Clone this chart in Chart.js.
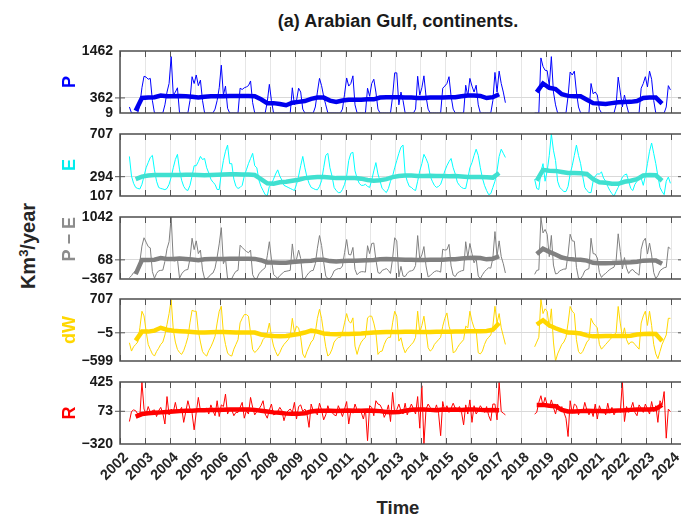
<!DOCTYPE html>
<html lang="en">
<head>
<meta charset="utf-8" />
<title>Arabian Gulf, continents</title>
<style>
  * { margin: 0; padding: 0; }
  html, body { width: 681px; height: 516px; overflow: hidden; background: #fff; }
  body { position: relative; font-family: "Liberation Sans", Arial, sans-serif; color: #000; }
  canvas { position: absolute; left: 0; top: 0; }
  .title { position: absolute; left: 120px; width: 556px; top: 11px; text-align: center; font-weight: bold; font-size: 18px; color: #1a1a1a; }
  .xlabel { position: absolute; left: 120px; width: 556px; top: 497px; text-align: center; font-weight: bold; font-size: 18.5px; color: #262626; }
  .ylabel { position: absolute; left: 28px; top: 246px; transform: translate(-50%, -50%) rotate(-90deg); font-weight: bold; font-size: 20px; white-space: nowrap; color: #262626; }
  .ylabel sup { font-size: 13px; }
</style>
</head>
<body>
<div class="title">(a) Arabian Gulf, continents.</div>
<div class="ylabel">Km<sup>3</sup>/year</div>
<div class="xlabel">Time</div>
<canvas id="c0" width="700" height="516"></canvas>
<canvas id="c1" width="700" height="516"></canvas>
<canvas id="c2" width="700" height="516"></canvas>
<canvas id="c3" width="700" height="516"></canvas>
<canvas id="c4" width="700" height="516"></canvas>
<script src="https://cdn.jsdelivr.net/npm/chart.js/dist/chart.umd.min.js"></script>
<script>
// monthly series start May 2002; gap Jun 2017 - Jun 2018 between GRACE and GRACE-FO
const years = [2002, 2003, 2004, 2005, 2006, 2007, 2008, 2009, 2010, 2011, 2012, 2013,
  2014, 2015, 2016, 2017, 2018, 2019, 2020, 2021, 2022, 2023, 2024];

const pTicks = [9, 362, 1462];
const eTicks = [107, 294, 707];
const peTicks = [-367, 68, 1042];
const dwTicks = [-599, -5, 707];
const rTicks = [-320, 73, 425];

const precip = [
  150, 9, 9, 9, 9, 200, 600, 870,
  850, 800, 820, 300, 9, 9, 9, 9, 9, 200, 500, 700,
  1330, 430, 500, 600, 9, 9, 9, 9, 9, 300, 860, 700,
  900, 650, 780, 300, 9, 9, 9, 9, 9, 100, 300, 600,
  1130, 430, 640, 120, 9, 9, 9, 9, 9, 590, 560, 600,
  620, 650, 760, 250, 9, 9, 9, 9, 9, 9, 270, 680,
  300, 9, 9, 9, 9, 9, 9, 9, 9, 9, 600, 200,
  300, 590, 500, 100, 9, 9, 9, 9, 9, 150, 500, 820,
  650, 400, 200, 9, 9, 9, 9, 9, 9, 9, 100, 450,
  830, 640, 700, 880, 200, 9, 9, 9, 9, 9, 590, 400,
  700, 800, 500, 100, 9, 9, 9, 9, 9, 9, 400, 950,
  950, 200, 500, 300, 9, 9, 9, 9, 9, 100, 870, 430,
  600, 880, 400, 100, 9, 9, 9, 9, 9, 9, 590, 640,
  700, 860, 400, 100, 9, 9, 9, 9, 9, 660, 400, 820,
  640, 500, 660, 200, 9, 9, 9, 9, 9, 9, 300, 960,
  500, 990, 700, 500, 250, null, null, null, null, null, null, null,
  null, null, null, null, null, null, 9, 9, 9, 1300, 1100, 1010,
  1000, 640, 1330, 500, 200, 9, 9, 9, 9, 9, 400, 970,
  900, 990, 500, 150, 9, 9, 9, 9, 9, 700, 460, 500,
  430, 100, 9, 9, 9, 9, 9, 9, 9, 200, 850, 500,
  150, 430, 200, 9, 9, 9, 9, 9, 9, 590, 700, 860,
  620, 990, 800, 300, 9, 9, 9, 9, 9, 150, 650, 550
];

const evap = [
  490, 300, 230, 190, 180, 175, 220, 300,
  380, 430, 480, 500, 360, 250, 190, 180, 175, 168, 180, 220,
  290, 380, 460, 510, 360, 260, 200, 170, 160, 210, 300, 400,
  400, 440, 490, 460, 470, 380, 330, 270, 240, 220, 170, 170,
  330, 450, 540, 600, 420, 420, 270, 200, 180, 190, 210, 300,
  360, 420, 470, 520, 400, 380, 260, 200, 160, 120, 110, 200,
  220, 270, 320, 360, 300, 260, 210, 200, 190, 180, 170, 160,
  220, 300, 400, 490, 380, 290, 230, 190, 180, 170, 167, 200,
  254, 380, 500, 520, 380, 300, 190, 160, 140, 140, 170, 220,
  300, 450, 520, 530, 350, 280, 230, 210, 210, 220, 200, 190,
  260, 350, 430, 320, 250, 180, 160, 140, 180, 250, 300, 380,
  450, 520, 580, 600, 320, 250, 200, 190, 170, 160, 250, 350,
  420, 510, 470, 420, 300, 250, 210, 190, 200, 220, 280, 350,
  400, 440, 470, 380, 320, 240, 210, 190, 180, 180, 275, 380,
  430, 500, 560, 500, 380, 280, 210, 160, 120, 130, 190, 250,
  350, 490, 560, 520, 480, null, null, null, null, null, null, null,
  null, null, null, null, null, null, 270, 180, 170, 340, 420, 250,
  350, 500, 707, 550, 450, 250, 190, 170, 150, 150, 200, 320,
  400, 500, 600, 500, 420, 300, 190, 160, 140, 140, 250, 300,
  320, 320, 340, 280, 250, 200, 160, 130, 107, 150, 190, 240,
  290, 310, 320, 250, 180, 160, 220, 250, 290, 280, 210, 300,
  420, 540, 620, 520, 420, 300, 190, 150, 120, 250, 290, 230
];

const pMinusE = [
  -340, -291, -221, -181, -171, 25, 380, 570,
  470, 370, 340, -200, -351, -241, -181, -171, -166, 32, 320, 480,
  1040, 50, 40, 90, -351, -251, -191, -161, -151, 90, 560, 300,
  500, 210, 290, -160, -360, -360, -320, -261, -231, -120, 130, 430,
  800, -20, 100, -360, -360, -360, -261, -191, -171, 400, 350, 300,
  260, 230, 290, -270, -360, -360, -251, -191, -151, -111, 160, 480,
  80, -261, -311, -351, -291, -251, -201, -191, -181, -171, 430, 40,
  80, 290, 100, -360, -360, -281, -221, -181, -171, -20, 333, 620,
  396, 20, -300, -360, -360, -291, -181, -151, -131, -131, -70, 230,
  530, 190, 180, 350, -150, -271, -221, -201, -201, -211, 390, 210,
  440, 450, 70, -220, -241, -171, -151, -131, -171, -241, 100, 570,
  500, -320, -80, -300, -311, -241, -191, -181, -161, -60, 620, 80,
  180, 370, -70, -320, -291, -241, -201, -181, -191, -211, 310, 290,
  300, 420, -70, -280, -311, -231, -201, -181, -171, 480, 125, 440,
  210, 0, 100, -300, -360, -271, -201, -151, -111, -121, 110, 710,
  150, 500, 140, -20, -230, null, null, null, null, null, null, null,
  null, null, null, null, null, null, -261, -171, -161, 1040, 680, 760,
  650, 140, 623, -50, -250, -241, -181, -161, -141, -141, 200, 650,
  500, 490, -100, -350, -360, -291, -181, -151, -131, 560, 210, 200,
  110, -220, -331, -271, -241, -191, -151, -121, -98, 50, 660, 260,
  -140, 120, -120, -241, -171, -151, -211, -241, -281, 310, 490, 560,
  200, 450, 180, -220, -360, -291, -181, -141, -111, -100, 360, 320
];

const storageChange = [
  -215, -390, -300, -250, -200, 100, 449, 350,
  30, -250, -355, -450, -495, -400, -330, -250, -200, -50, 170, 400,
  693, 65, -200, -355, -420, -460, -380, -250, -100, 205, 470, 449,
  449, 30, -200, -400, -460, -495, -380, -300, -200, -80, 200, 450,
  553, -10, -250, -430, -480, -495, -350, -250, -150, 205, 300, 379,
  379, 345, -10, -355, -420, -380, -320, -250, -145, -100, 0, 200,
  -75, -285, -400, -495, -420, -320, -250, -200, -150, -75, 300, 0,
  134, 100, -100, -450, -530, -400, -300, -200, -150, 0, 300, 490,
  300, -10, -300, -495, -450, -350, -200, -145, -100, -100, 0, 205,
  400, 240, 200, 310, -285, -460, -300, -200, -145, -100, 310, 345,
  345, 200, 0, -460, -400, -390, -250, -150, -100, -100, 205, 449,
  345, -180, -110, -300, -425, -350, -300, -250, -200, -100, 450, 0,
  150, 345, 30, -320, -390, -350, -250, -200, -150, -100, 134, 300,
  414, 134, -10, -425, -400, -320, -250, -200, -150, 134, 100, 449,
  240, 100, 50, -425, -450, -390, -250, -150, -100, -50, 134, 553,
  205, 400, 100, -75, -250, null, null, null, null, null, null, null,
  null, null, null, null, null, null, -300, -200, -100, 707, 400, 500,
  450, 100, 500, -200, -599, -450, -350, -250, -200, -100, 200, 550,
  450, 400, -150, -400, -450, -400, -300, -200, -150, 300, 200, 150,
  100, -250, -350, -300, -250, -200, -150, -100, -50, 0, 550, 200,
  -100, 100, -150, -250, -200, -200, -250, -300, -350, 200, 350, 450,
  150, 450, 150, -250, -450, -550, -400, -250, -150, -50, 300, 300
];

const runoff = [
  -50, 70, 90, 80, 40, 10, 425, 100,
  40, 130, 60, 80, 90, 10, 80, 120, 50, -80, 250, 30,
  100, 60, 180, 60, 80, 120, -60, 70, 200, 100, 50, -150,
  60, 240, 80, 70, 100, 110, 40, 150, 80, 20, 200, 10,
  150, 130, 280, 40, 100, 90, 20, 60, 60, 120, 180, -10,
  80, 40, 240, 120, 30, 70, 100, 140, 200, 40, -10, 90,
  160, 30, 40, 70, 120, 80, -40, 50, 80, 100, 60, 180,
  -20, 130, 150, 70, 100, 40, -120, 160, 80, 60, 30, 170,
  90, -30, 30, 140, 60, 60, 30, 20, 140, 80, 10, 100,
  190, -80, 80, 50, 160, 90, 100, 60, -20, 100, -280, 140,
  120, 20, 200, 160, 150, 100, 0, 60, 150, -50, 300, 50,
  90, 160, 80, 40, 170, 30, 100, 160, 100, 40, 250, -130,
  380, -320, 100, 160, 120, 90, 70, 150, 50, -220, 190, 70,
  140, 60, 110, 170, 110, 80, 130, 60, -90, 150, 40, 210,
  -60, 140, 40, 80, 140, 100, 60, 130, 20, -40, 160, 160,
  -30, 425, 70, 50, 30, null, null, null, null, null, null, null,
  null, null, null, null, null, null, 40, 60, 180, 260, 140, 240,
  150, 120, 210, 120, 40, 160, 80, 130, 60, -10, -230, 200,
  50, 160, 140, 30, 100, 60, 180, 90, 30, 100, 10, 160,
  -20, 140, 70, 100, 30, 170, 50, 120, 30, 80, 90, 60,
  425, -50, 130, 60, 100, 180, 60, 20, 150, 110, 60, 160,
  100, 40, 190, 70, 140, -60, 200, 150, 310, -250, 100, 70
];

// 12-month running means, sampled every quarter from 2002.625
const precipSmooth = [
  60, 360,
  370, 380, 420, 400,
  400, 410, 400, 390,
  370, 390, 400, 400,
  400, 410, 410, 410,
  410, 400, 330, 240,
  240, 220, 190, 250,
  270, 290, 340, 370,
  370, 300, 270, 300,
  320, 320, 320, 330,
  330, 370, 380, 380,
  380, 370, 370, 360,
  360, 370, 370, 370,
  380, 380, 400, 420,
  420, 410, 360, 380,
  450, null, null, null,
  null, null, 500, 700,
  600, 570, 450, 410,
  400, 400, 320, 240,
  230, 220, 240, 260,
  265, 270, 290, 360,
  370, 370, 230
];

const evapSmooth = [
  270, 295,
  305, 310, 310, 310,
  310, 310, 312, 312,
  310, 308, 310, 312,
  315, 318, 318, 316,
  315, 310, 270, 230,
  225, 240, 245, 255,
  265, 280, 285, 290,
  290, 285, 280, 280,
  280, 282, 275, 262,
  255, 260, 270, 290,
  300, 305, 305, 300,
  300, 302, 300, 300,
  298, 300, 295, 290,
  290, 290, 288, 285,
  330, null, null, null,
  null, null, 255, 360,
  352, 350, 340, 330,
  330, 328, 320, 270,
  240, 235, 225, 225,
  245, 255, 270, 305,
  310, 308, 255
];

const pMinusESmooth = [
  -255, 65,
  65, 70, 110, 90,
  90, 100, 88, 78,
  60, 82, 90, 88,
  85, 92, 92, 94,
  95, 90, 60, 10,
  10, 0, 0, 20,
  30, 40, 50, 70,
  70, 40, 30, 40,
  50, 50, 55, 60,
  65, 80, 85, 80,
  75, 70, 70, 65,
  65, 68, 70, 72,
  80, 82, 100, 110,
  115, 110, 80, 95,
  150, null, null, null,
  null, null, 200, 320,
  250, 190, 120, 90,
  75, 72, 50, 0,
  -10, -10, -5, 5,
  10, 15, 25, 50,
  55, 55, -20
];

const storageSmooth = [
  -170, 20,
  20, 40, 100, 60,
  40, 30, 20, 10,
  0, 0, 5, 10,
  10, 5, 0, 0,
  0, 0, -40, -60,
  -70, -75, -70, -50,
  -30, 0, 40, 20,
  -20, -30, -35, -30,
  -30, -25, -20, -10,
  0, 5, 10, 10,
  10, 15, 15, 10,
  10, 10, 15, 15,
  15, 20, 25, 30,
  30, 30, 35, 60,
  200, null, null, null,
  null, null, 170, 260,
  150, 90, 40, 0,
  -5, -20, -60, -80,
  -80, -75, -75, -70,
  -70, -65, -40, -30,
  -25, -30, -180
];

const runoffSmooth = [
  10, 40,
  50, 55, 60, 65,
  70, 75, 80, 80,
  85, 85, 90, 90,
  92, 95, 95, 95,
  95, 90, 80, 70,
  60, 55, 45, 42,
  42, 50, 70, 80,
  80, 80, 78, 80,
  82, 80, 80, 82,
  80, 75, 65, 62,
  65, 80, 92, 95,
  95, 90, 85, 95,
  92, 95, 90, 95,
  95, 90, 85, 88,
  85, null, null, null,
  null, null, 150, 150,
  140, 135, 90, 70,
  70, 75, 80, 78,
  78, 75, 80, 82,
  85, 90, 95, 95,
  95, 100, 150
];

const monthStart = 2002 + 4 / 12;
const smoothStart = 2002.625;
const monthly = vals => vals.map((v, i) => ({ x: monthStart + (i + 0.5) / 12, y: v }));
const quarterly = vals => vals.map((v, i) => ({ x: smoothStart + i * 0.25, y: v }));
const fmt = v => (v < 0 ? '\u2212' + Math.abs(v) : String(v));

const panels = [
  { name: 'P', ticks: pTicks, raw: precip, smooth: precipSmooth, label: '#0000ff', thin: '#0000ff', thick: '#0000ee' },
  { name: 'E', ticks: eTicks, raw: evap, smooth: evapSmooth, label: '#00eded', thin: '#00ffff', thick: '#40e0d0' },
  { name: 'P \u2212 E', ticks: peTicks, raw: pMinusE, smooth: pMinusESmooth, label: '#8c8c8c', thin: '#808080', thick: '#808080', align: 'end' },
  { name: 'dW', ticks: dwTicks, raw: storageChange, smooth: storageSmooth, label: '#ffd700', thin: '#ffd700', thick: '#ffd700' },
  { name: 'R', ticks: rTicks, raw: runoff, smooth: runoffSmooth, label: '#ff0000', thin: '#ff0000', thick: '#ff0000' }
];

const panelTops = [51, 134, 217, 299, 382];
const panelH = 62;
const axisH = 50;

// box, inward year ticks and the tick at the middle value
const frame = {
  id: 'frame',
  afterDatasetsDraw(chart, args, opts) {
    const { ctx, chartArea: a, scales } = chart;
    const ym = scales.y.getPixelForValue(opts.mid);
    ctx.save();
    ctx.strokeStyle = '#555';
    ctx.lineWidth = 1;
    ctx.beginPath();
    years.forEach(v => {
      const x = Math.round(scales.x.getPixelForValue(v)) + 0.5;
      ctx.moveTo(x, a.top); ctx.lineTo(x, a.top + 6);
      ctx.moveTo(x, a.bottom); ctx.lineTo(x, a.bottom - 6);
    });
    ctx.moveTo(a.left - 5, ym); ctx.lineTo(a.left + 5, ym);
    ctx.moveTo(a.right - 6, ym); ctx.lineTo(a.right, ym);
    ctx.stroke();
    ctx.lineWidth = 1.5;
    ctx.strokeStyle = '#4d4d4d';
    ctx.strokeRect(a.left, a.top, a.width, a.height);
    ctx.restore();
  }
};

panels.forEach((p, k) => {
  const last = k === panels.length - 1;
  const top = panelTops[k];
  const xh = last ? axisH : 0;
  new Chart(document.getElementById('c' + k), {
    type: 'line',
    data: {
      datasets: [
        { data: quarterly(p.smooth), borderColor: p.thick, borderWidth: 4.5, pointRadius: 0, spanGaps: false },
        { data: monthly(p.raw), borderColor: p.thin, borderWidth: 1, pointRadius: 0, spanGaps: false }
      ]
    },
    options: {
      responsive: false,
      animation: false,
      events: [],
      layout: { padding: { top: top, bottom: 516 - top - panelH - xh, left: 0, right: 16 } },
      plugins: {
        legend: { display: false },
        tooltip: { enabled: false },
        frame: { mid: p.ticks[1] }
      },
      scales: {
        x: {
          type: 'linear',
          min: 2002,
          max: 2024.5,
          afterBuildTicks: s => { s.ticks = years.map(v => ({ value: v })); },
          afterFit: s => { s.height = xh; },
          grid: { color: '#e6e6e6', lineWidth: 1, drawTicks: false },
          border: { display: false },
          ticks: {
            display: last,
            autoSkip: false,
            maxRotation: 45,
            minRotation: 45,
            padding: 5,
            labelOffset: 6,
            color: '#262626',
            font: { family: '"Liberation Sans", Arial, sans-serif', size: 14.5, weight: 'bold' },
            callback: v => String(v)
          }
        },
        y: {
          min: p.ticks[0],
          max: p.ticks[2],
          afterBuildTicks: s => { s.ticks = p.ticks.map(v => ({ value: v })); },
          afterFit: s => { s.width = 120; },
          grid: {
            drawTicks: false,
            color: c => (c.tick && c.tick.value === p.ticks[1] ? '#d9d9d9' : 'rgba(0,0,0,0)')
          },
          border: { display: false },
          ticks: {
            padding: 7,
            color: '#1a1a1a',
            font: { family: '"Liberation Sans", Arial, sans-serif', size: 14, weight: 'bold' },
            callback: v => fmt(v)
          },
          title: {
            display: true,
            text: p.name,
            color: p.label,
            align: p.align || 'center',
            padding: { top: 59, bottom: 0 },
            font: { family: '"Liberation Sans", Arial, sans-serif', size: 18, weight: 'bold' }
          }
        }
      }
    },
    plugins: [frame]
  });
});
</script>
</body>
</html>
